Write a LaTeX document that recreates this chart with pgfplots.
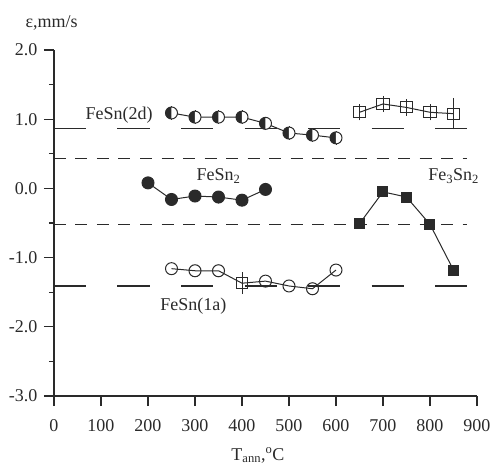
\documentclass[border=0pt]{standalone}
\usepackage{pgfplots}
\pgfplotsset{compat=1.18}
\usepackage{fontspec}
\setmainfont{Liberation Serif}
\definecolor{ink}{HTML}{2A2A2A}
\newcommand{\lbl}{\fontsize{18bp}{20bp}\selectfont}

\begin{document}
\begin{tikzpicture}
\begin{axis}[
  at={(0,0)}, anchor=south west,
  scale only axis, width=423bp, height=346bp,
  xmin=0, xmax=900, ymin=-3, ymax=2,
  enlargelimits=false, clip=false,
  axis x line=bottom, axis y line=left,
  axis line style={-, ink, line width=1.1bp},
  xtick={0,100,...,900}, ytick={-3,-2,...,2},
  minor y tick num=1,
  tick align=outside,
  major tick length=10bp, minor tick length=5bp,
  every tick/.style={ink, line width=1.1bp},
  xticklabel shift=10bp, yticklabel shift=3bp,
  /pgf/number format/assume math mode=true,
  /pgf/number format/1000 sep={},
  y tick label style={/pgf/number format/.cd, fixed, fixed zerofill, precision=1, /tikz/.cd},
  tick label style={font=\lbl, text=ink},
]

% reference levels
\addplot[ink, line width=1.1bp, dash pattern=on 32bp off 31.5bp, forget plot] coordinates {(0,0.87) (880,0.87)};
\addplot[ink, line width=1.1bp, dash pattern=on 12bp off 9.5bp, forget plot] coordinates {(0,0.43) (878,0.43)};
\addplot[ink, line width=1.1bp, dash pattern=on 12bp off 9.5bp, forget plot] coordinates {(0,-0.52) (878,-0.52)};
\addplot[ink, line width=1.1bp, dash pattern=on 32bp off 31.5bp, forget plot] coordinates {(0,-1.41) (880,-1.41)};

% FeSn(2d)
\addplot[ink, line width=1bp, mark=halfcircle*, mark size=6bp,
  mark options={rotate=90, fill=ink, draw=ink, solid},
  error bars/.cd, y dir=both, y explicit,
  error bar style={ink, line width=0.9bp},
  error mark options={ink, mark size=4bp, line width=0.9bp}]
  coordinates {(250,1.09) +- (0,0.04) (300,1.03) +- (0,0.04) (350,1.03) +- (0,0.04)
               (400,1.03) +- (0,0.04) (450,0.94) +- (0,0.04) (500,0.80) +- (0,0.04)
               (550,0.77) +- (0,0.04) (600,0.73) +- (0,0.04)};

% FeSn2
\addplot[ink, line width=1bp, mark=*, mark size=6bp, mark options={fill=ink, draw=ink}]
  coordinates {(200,0.08) (250,-0.16) (300,-0.11) (350,-0.125) (400,-0.17) (450,-0.015)};

% FeSn(1a)
\addplot[ink, line width=1bp, mark=o, mark size=6bp, mark indices={1,2,3,5,6,7,8},
  mark options={draw=ink, solid}]
  coordinates {(250,-1.16) (300,-1.19) (350,-1.19) (400,-1.37) (450,-1.34)
               (500,-1.41) (550,-1.45) (600,-1.18)};
\addplot[only marks, ink, mark=square, mark size=5.5bp, mark options={draw=ink, line width=1bp},
  error bars/.cd, y dir=both, y explicit,
  error bar style={ink, line width=0.9bp},
  error mark options={ink, mark size=6bp, line width=0.9bp}]
  coordinates {(400,-1.37) +- (0,0.07)};

% Fe3Sn2, lower branch
\addplot[ink, line width=1bp, mark=square*, mark size=5bp, mark options={fill=ink, draw=ink}]
  coordinates {(650,-0.51) (700,-0.05) (750,-0.125) (800,-0.52) (850,-1.18)};

% Fe3Sn2, upper branch
\addplot[ink, line width=1bp, mark=square, mark size=5.5bp,
  mark options={draw=ink, xscale=1.15, line width=1bp},
  error bars/.cd, y dir=both, y explicit,
  error bar style={ink, line width=0.9bp},
  error mark options={ink, mark size=6bp, line width=0.9bp}]
  coordinates {(650,1.10) +- (0,0.03) (700,1.22) +- (0,0.03) (750,1.17) +- (0,0.03)
               (800,1.10) +- (0,0.03) (850,1.08) +- (0,0.14)};

% phase labels
\node[anchor=base west, font=\lbl, text=ink] at (axis cs:60,1.0) {FeSn(2d)};
\node[anchor=base west, font=\lbl, text=ink] at (axis cs:296,0.115) {FeSn\textsubscript{2}};
\node[anchor=base west, font=\lbl, text=ink] at (axis cs:789,0.115) {Fe\textsubscript{3}Sn\textsubscript{2}};
\node[anchor=base west, font=\lbl, text=ink] at (axis cs:219,-1.76) {FeSn(1a)};

% axis titles
\node[anchor=base west, font=\lbl, text=ink] at (axis cs:-68,2.32) {ε,mm/s};
\node[anchor=base west, font=\lbl, text=ink] at (axis cs:370,-3.925) {T\textsubscript{ann},\textsuperscript{o}C};
\end{axis}
\pgfresetboundingbox
\path[use as bounding box] (-54bp,-75bp) rectangle (438bp,396bp);
\end{tikzpicture}
\end{document}
